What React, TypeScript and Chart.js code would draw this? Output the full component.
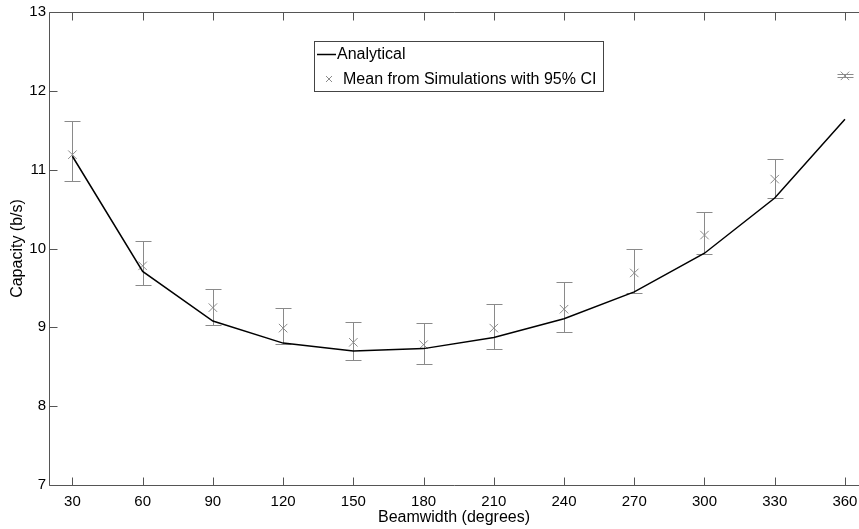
import React, { useEffect, useRef } from "react";
import { Chart, registerables } from "chart.js";

Chart.register(...registerables);

const beamwidths = [30, 60, 90, 120, 150, 180, 210, 240, 270, 300, 330, 360];
const analytical = [11.17, 9.71, 9.08, 8.8, 8.7, 8.73, 8.87, 9.11, 9.45, 9.94, 10.64, 11.64];
const simMean = [11.19, 9.78, 9.25, 8.99, 8.81, 8.78, 8.99, 9.23, 9.69, 10.17, 10.88, 12.19];
const ciUpper = [11.62, 10.1, 9.49, 9.24, 9.07, 9.05, 9.3, 9.58, 9.99, 10.46, 11.14, 12.21];
const ciLower = [10.86, 9.54, 9.03, 8.79, 8.59, 8.53, 8.73, 8.94, 9.44, 9.93, 10.64, 12.17];
const xTickValues = [30, 60, 90, 120, 150, 180, 210, 240, 270, 300, 330, 360];
const yTickValues = [7, 8, 9, 10, 11, 12, 13];
const legendLabels = ["Analytical", "Mean from Simulations with 95% CI"];

const FONT = "'Liberation Sans', Arial, Helvetica, sans-serif";
const AXIS_COLOR = "#555555";
const ERR_COLOR = "#8a8a8a";

const errorBarPlugin = {
  id: "errorBars",
  beforeDatasetsDraw(chart: any) {
    const { ctx, scales } = chart;
    const xs = scales.x;
    const ys = scales.y;
    ctx.save();
    ctx.strokeStyle = ERR_COLOR;
    ctx.lineWidth = 1;
    for (let i = 0; i < beamwidths.length; i++) {
      const x = Math.round(xs.getPixelForValue(beamwidths[i])) + 0.5;
      const yt = Math.round(ys.getPixelForValue(ciUpper[i])) + 0.5;
      const yb = Math.round(ys.getPixelForValue(ciLower[i])) + 0.5;
      ctx.beginPath();
      ctx.moveTo(x, yt);
      ctx.lineTo(x, yb);
      ctx.moveTo(x - 8, yt);
      ctx.lineTo(x + 8, yt);
      ctx.moveTo(x - 8, yb);
      ctx.lineTo(x + 8, yb);
      ctx.stroke();
    }
    ctx.restore();
  },
};

const framePlugin = {
  id: "frame",
  afterDraw(chart: any) {
    const { ctx, chartArea, scales } = chart;
    const xs = scales.x;
    const ys = scales.y;
    const L = Math.round(chartArea.left) + 0.5;
    const T = Math.round(chartArea.top) + 0.5;
    const B = Math.round(chartArea.bottom) + 0.5;
    const R = chart.width;
    ctx.save();
    ctx.strokeStyle = AXIS_COLOR;
    ctx.lineWidth = 1;
    ctx.beginPath();
    ctx.moveTo(L, B);
    ctx.lineTo(L, T);
    ctx.lineTo(R, T);
    ctx.moveTo(L, B);
    ctx.lineTo(R, B);
    for (const v of xTickValues) {
      const x = Math.round(xs.getPixelForValue(v)) + 0.5;
      ctx.moveTo(x, B);
      ctx.lineTo(x, B - 8);
      ctx.moveTo(x, T);
      ctx.lineTo(x, T + 8);
    }
    for (const v of yTickValues) {
      const y = Math.round(ys.getPixelForValue(v)) + 0.5;
      ctx.moveTo(L, y);
      ctx.lineTo(L + 8, y);
    }
    ctx.stroke();

    // legend
    const lx = 314.5, ly = 41.5, lw = 289, lh = 50;
    ctx.fillStyle = "#ffffff";
    ctx.fillRect(lx, ly, lw, lh);
    ctx.strokeStyle = "#444444";
    ctx.strokeRect(lx, ly, lw, lh);
    ctx.font = `16px ${FONT}`;
    ctx.fillStyle = "#000000";
    ctx.textBaseline = "middle";
    ctx.textAlign = "left";
    ctx.strokeStyle = "#000000";
    ctx.lineWidth = 1.5;
    ctx.beginPath();
    ctx.moveTo(317, 54.5);
    ctx.lineTo(336, 54.5);
    ctx.stroke();
    ctx.fillText(legendLabels[0], 337, 55);
    ctx.strokeStyle = ERR_COLOR;
    ctx.lineWidth = 1;
    ctx.beginPath();
    ctx.moveTo(326, 76);
    ctx.lineTo(332, 82);
    ctx.moveTo(332, 76);
    ctx.lineTo(326, 82);
    ctx.stroke();
    ctx.fillText(legendLabels[1], 343, 80);
    ctx.restore();
  },
};

export default function App() {
  const canvasRef = useRef<HTMLCanvasElement | null>(null);

  useEffect(() => {
    const canvas = canvasRef.current;
    if (!canvas) return;
    const chart = new Chart(canvas, {
      type: "line",
      data: {
        datasets: [
          {
            label: legendLabels[0],
            data: beamwidths.map((x, i) => ({ x, y: analytical[i] })),
            borderColor: "#000000",
            borderWidth: 1.5,
            pointRadius: 0,
            tension: 0,
            fill: false,
          },
          {
            label: legendLabels[1],
            data: beamwidths.map((x, i) => ({ x, y: simMean[i] })),
            showLine: false,
            pointStyle: "crossRot",
            pointRadius: 6,
            pointBorderColor: ERR_COLOR,
            pointBorderWidth: 1,
            borderColor: ERR_COLOR,
          },
        ],
      },
      options: {
        responsive: false,
        animation: false,
        events: [],
        layout: { autoPadding: false, padding: { top: 12, right: 0, left: 0, bottom: 0 } },
        plugins: {
          legend: { display: false },
          tooltip: { enabled: false },
        },
        scales: {
          x: {
            type: "linear",
            min: 20,
            max: 366,
            afterBuildTicks: (scale: any) => {
              scale.ticks = xTickValues.map((v) => ({ value: v }));
            },
            afterFit: (scale: any) => {
              scale.height = 44;
              scale.paddingLeft = 0;
              scale.paddingRight = 0;
            },
            grid: { display: false, drawTicks: false },
            border: { display: false },
            ticks: {
              color: "#000000",
              font: { family: FONT, size: 15 },
              padding: 8,
              maxRotation: 0,
              autoSkip: false,
            },
            title: {
              display: true,
              text: "Beamwidth (degrees)",
              color: "#000000",
              font: { family: FONT, size: 16 },
              padding: { top: 0, bottom: 2 },
            },
          },
          y: {
            type: "linear",
            min: 7,
            max: 13,
            afterBuildTicks: (scale: any) => {
              scale.ticks = yTickValues.map((v) => ({ value: v }));
            },
            afterFit: (scale: any) => {
              scale.width = 49;
              scale.paddingTop = 0;
              scale.paddingBottom = 0;
            },
            grid: { display: false, drawTicks: false },
            border: { display: false },
            ticks: {
              color: "#000000",
              font: { family: FONT, size: 15 },
              padding: 3,
              autoSkip: false,
            },
            title: {
              display: true,
              text: "Capacity (b/s)",
              color: "#000000",
              font: { family: FONT, size: 16 },
              padding: { top: 8, bottom: 0 },
            },
          },
        },
      },
      plugins: [errorBarPlugin, framePlugin],
    });
    return () => chart.destroy();
  }, []);

  return (
    <div style={{ position: "fixed", left: 0, top: 0, width: 859, height: 529, background: "#fff" }}>
      <canvas ref={canvasRef} width={859} height={529} style={{ display: "block" }} />
    </div>
  );
}
